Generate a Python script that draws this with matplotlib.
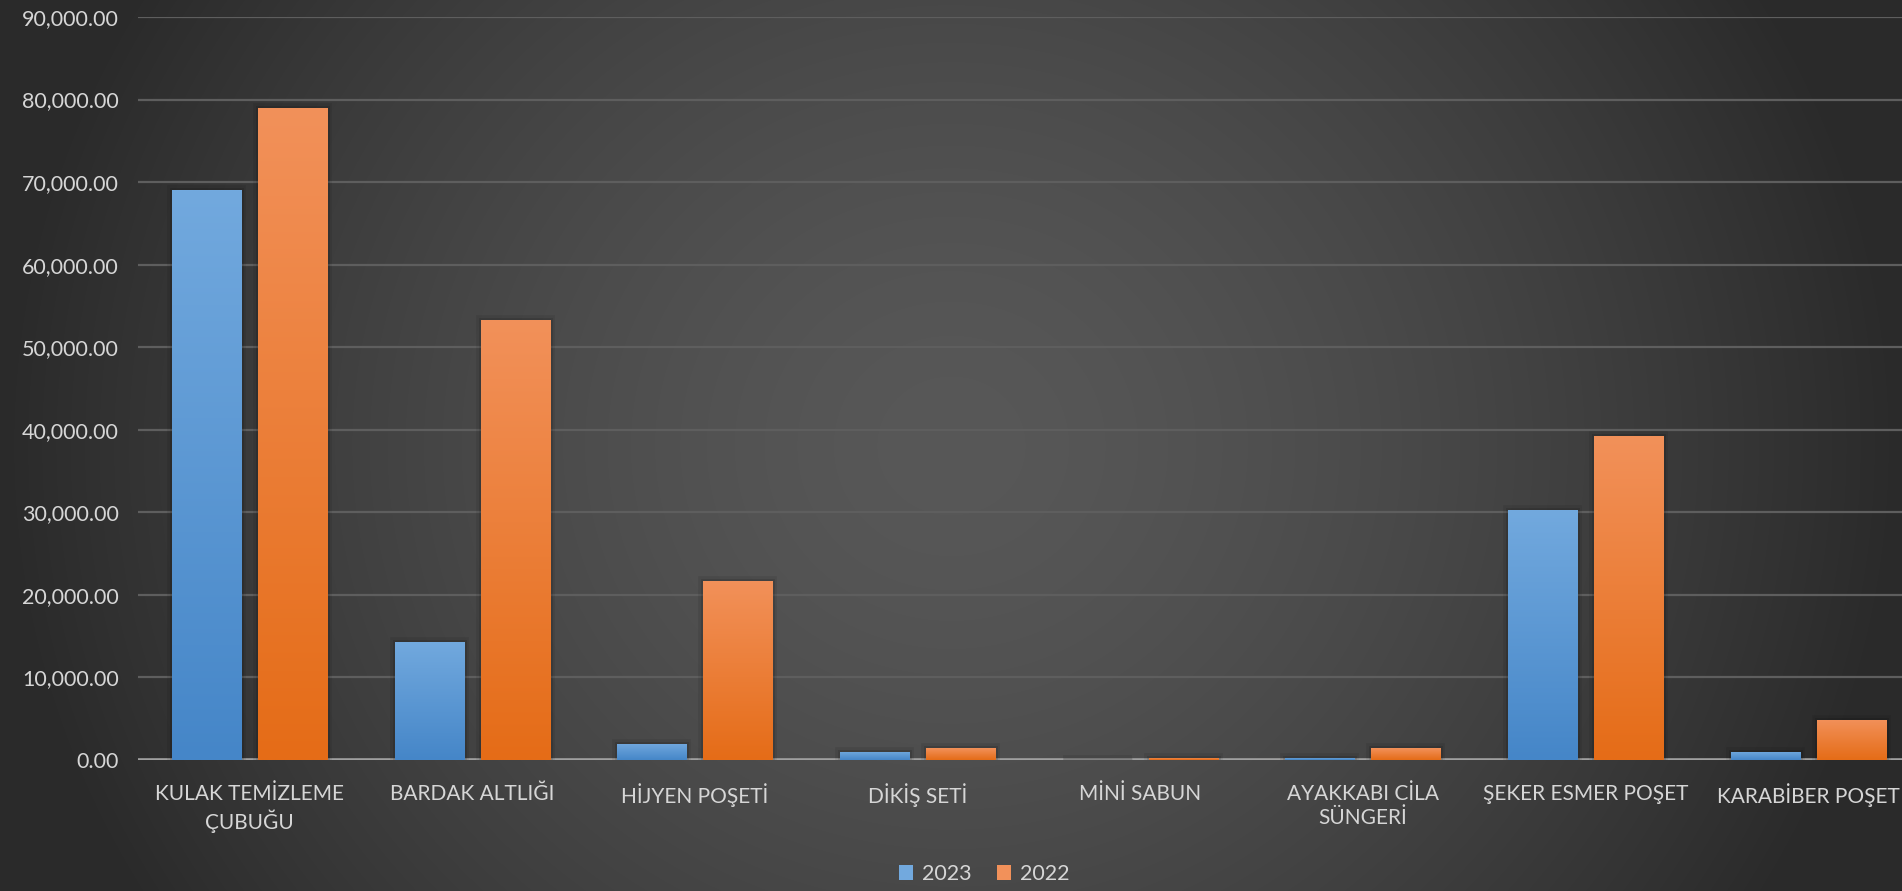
import numpy as np
import matplotlib
matplotlib.use("Agg")
import matplotlib.pyplot as plt
import matplotlib.patheffects as pe
from matplotlib.ticker import FuncFormatter, MultipleLocator
from matplotlib.patches import Patch

categories = ["KULAK TEMİZLEME\nÇUBUĞU", "BARDAK ALTLIĞI", "HİJYEN POŞETİ", "DİKİŞ SETİ",
              "MİNİ SABUN", "AYAKKABI CİLA\nSÜNGERİ", "ŞEKER ESMER POŞET", "KARABİBER POŞET"]
series_names = ["2023", "2022"]
v2023 = [69000, 14300, 1950, 1000, 60, 300, 30250, 1000]
v2022 = [79000, 53300, 21700, 1450, 280, 1450, 39250, 4850]

plt.rcParams['font.family'] = ['Lato', 'DejaVu Sans']
W, H = 1902, 891
fig = plt.figure(figsize=(W / 100, H / 100), dpi=100)

# background radial gradient
bg = fig.add_axes([0, 0, 1, 1], zorder=-10)
yy, xx = np.mgrid[0:H, 0:W]
dx = (xx - W / 2) / (W / 2)
dy = (yy - H / 2) / (H / 2)
d = np.clip(np.sqrt(dx ** 2 + (0.5 * dy) ** 2), 0, 1) ** 1.5
c0, c1 = 88 / 255, 42 / 255
g = c0 - (c0 - c1) * d
bg.imshow(np.dstack([g, g, g]), aspect='auto', extent=[0, 1, 0, 1], origin='upper')
bg.axis('off')

ax = fig.add_axes([138 / W, 1 - 760 / H, 1 - 138 / W, (760 - 17) / H])
ax.set_facecolor('none')
for s in ax.spines.values():
    s.set_visible(False)

x = np.arange(len(categories))
bw = 0.31
off = 0.193
grads = [("#72a9de", "#4586c8"), ("#f2915a", "#e56c17")]

cat_px = 222.7
ax.set_xlim(-0.5, -0.5 + (W - 138) / cat_px)
ax.set_ylim(0, 90000)

def hex2rgb(h):
    return np.array([int(h[i:i + 2], 16) / 255 for i in (1, 3, 5)])

for vals, sign, (top, bot) in zip([v2023, v2022], [-1, 1], grads):
    bars = ax.bar(x + sign * off, vals, width=bw, color=bot, zorder=3,
                  path_effects=[pe.Stroke(linewidth=7, foreground='black', alpha=0.08),
                                pe.Stroke(linewidth=3.5, foreground='black', alpha=0.12),
                                pe.Normal()])
    t, b = hex2rgb(top), hex2rgb(bot)
    grad = np.linspace(0, 1, 256)[:, None]
    img = t[None, None, :] * (1 - grad[..., None]) + b[None, None, :] * grad[..., None]
    for p in bars:
        x0, y0 = p.get_x(), p.get_y()
        w, h = p.get_width(), p.get_height()
        if h <= 0:
            continue
        im = ax.imshow(img, extent=[x0, x0 + w, y0, y0 + h], aspect='auto',
                       origin='upper', zorder=4)
        im.set_clip_path(p)

ax.yaxis.set_major_locator(MultipleLocator(10000))
ax.yaxis.set_major_formatter(FuncFormatter(lambda v, p: f"{v:,.2f}"))
ax.grid(axis='y', color='#5e5e5e', linewidth=1.6, zorder=0)
ax.set_axisbelow(True)
ax.axhline(0, color='#a0a0a0', linewidth=2.6, zorder=2)

ax.set_xticks(x)
ax.set_xticklabels(categories, linespacing=1.3)
ax.tick_params(axis='both', length=0, labelsize=15.5, labelcolor='#d6d6d6')
ax.tick_params(axis='x', pad=17, labelsize=15)
ax.tick_params(axis='y', pad=14)

handles = [Patch(facecolor=grads[0][0], edgecolor='none'),
           Patch(facecolor=grads[1][0], edgecolor='none')]
leg = fig.legend(handles, series_names, loc='center', bbox_to_anchor=(984 / W, 1 - 874 / H),
                 ncol=2, frameon=False, fontsize=15.5, labelcolor='#d6d6d6',
                 handlelength=0.65, handleheight=0.65, handletextpad=0.4, columnspacing=1.2)

fig.savefig("out.png", dpi=100)
